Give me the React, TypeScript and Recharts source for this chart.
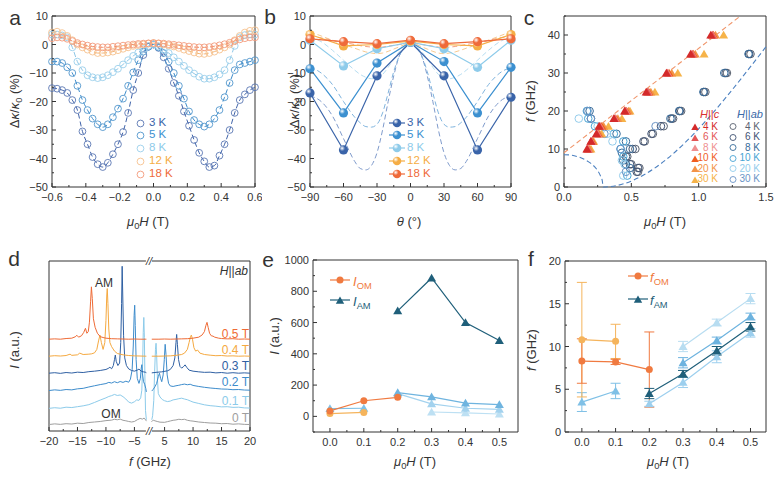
import React from 'react';
import { ComposedChart, Line, Scatter, XAxis, YAxis, ReferenceArea, ErrorBar } from 'recharts';

const FONT = '"Liberation Sans", Arial, Helvetica, sans-serif';
const INK = '#333333';

// ---------- panel a: field sweeps of thermal conductivity ----------
const fieldA = [-0.6, -0.57, -0.54, -0.51, -0.48, -0.45, -0.42, -0.39, -0.36, -0.33, -0.3, -0.27, -0.24, -0.21, -0.18, -0.15, -0.12, -0.09, -0.06, -0.03, 0, 0.03, 0.06, 0.09, 0.12, 0.15, 0.18, 0.21, 0.24, 0.27, 0.3, 0.33, 0.36, 0.39, 0.42, 0.45, 0.48, 0.51, 0.54, 0.57, 0.6];
const kappa3K = [-15.3, -15.5, -16, -17, -19.5, -23, -30.5, -35, -39.5, -42, -43, -41.5, -38.5, -35, -30.7, -24, -16, -10, -3.7, -0.8, 0, -1.2, -4.5, -8.5, -13.5, -18, -23.5, -28.5, -33.5, -38, -41, -43, -42.5, -39, -35, -30, -24, -19.5, -17.5, -16, -15];
const kappa5K = [-6, -6, -6.5, -8, -10, -14.5, -19.5, -23, -26, -28, -29, -28, -25.5, -22.5, -19, -14.5, -9.8, -5.5, -2.5, -0.8, 0, -1, -3, -6, -10, -14.5, -19, -23.5, -26.5, -28, -28.8, -28, -26, -23, -18.5, -13.5, -9, -7, -6.5, -6, -5.5];
const kappa8K = [3.5, 3.5, 3.2, 2.5, -1, -6, -9, -10.8, -11.5, -11.8, -11.5, -10.8, -9.7, -8.5, -7, -5.5, -4, -2.8, -1.6, -0.5, 0, -0.6, -1.8, -3, -4.5, -6, -7.5, -9, -10.2, -11.3, -12, -12, -11.5, -10.5, -9, -5.5, -0.5, 2.5, 3.3, 3.5, 3.5];
const kappa12K = [4.2, 4.5, 4, 3, 1.5, 0, -1, -1.8, -2.5, -3, -3, -2.8, -2.5, -2, -1.5, -1, -0.5, -0.2, 0, 0.3, 0.5, 0.3, 0, -0.3, -0.7, -1.2, -1.8, -2.3, -2.8, -3.2, -3.3, -3, -2.5, -1.8, -1, 0, 1.5, 3, 4.2, 4.8, 5];
const kappa18K = [2.2, 2.5, 2.4, 2, 1.2, 0.5, 0, -0.4, -0.7, -0.9, -1, -1, -0.8, -0.6, -0.4, -0.2, 0, 0.2, 0.3, 0.4, 0.5, 0.4, 0.3, 0.1, -0.1, -0.3, -0.5, -0.7, -0.9, -1, -1, -0.9, -0.6, -0.3, 0.1, 0.6, 1.2, 1.8, 2.2, 2.5, 2.5];
const tempLabels = ['3 K', '5 K', '8 K', '12 K', '18 K'];
const circleColorsA = ['#5a77b3', '#5196cd', '#9bcfeb', '#f6c28e', '#f39b7c'];
const fitColorsA = ['#3f63a9', '#3e8ccb', '#8ec7e7', '#f3b272', '#ef8c63'];

// ---------- panel b: angular dependence ----------
const angles = [-90, -60, -30, 0, 30, 60, 90];
const ang3K = [-17, -37, -11, 0.8, -11, -37, -18.5];
const ang5K = [-8.5, -24, -6.5, 0.8, -6, -24, -8];
const ang8K = [1.5, -7.5, -1.5, 0.8, -1.5, -8, 1.5];
const ang12K = [3.5, -0.5, 0, 1.2, 0, -0.5, 3.5];
const ang18K = [2, 1, 0.3, 1.5, 0.3, 1, 2];
const angleFit = [-90, -80, -70, -60, -50, -45, -40, -35, -30, -25, -20, -15, -10, -5, 0, 5, 10, 15, 20, 25, 30, 35, 40, 45, 50, 60, 70, 80, 90];
const angFit3K = [-18, -20, -25, -33, -41, -43.5, -44, -42.5, -38, -30, -20, -11, -4, -1, 0, -1, -4, -11, -20, -30, -38, -42.5, -44, -43.5, -41, -33, -25, -20, -18];
const angFit5K = [-8, -10, -14, -20, -25.5, -27.5, -28.8, -29, -28, -24, -17, -9.5, -4, -1, 0, -1, -4, -9.5, -17, -24, -28, -29, -28.8, -27.5, -25.5, -20, -14, -10, -8];
const angFit8K = [2.5, 1, -2, -5.5, -9, -10.5, -11.5, -12, -11.8, -10.5, -8, -5, -2.5, -0.8, 0, -0.8, -2.5, -5, -8, -10.5, -11.8, -12, -11.5, -10.5, -9, -5.5, -2, 1, 2.5];
const angFit12K = [4.5, 3, 1.5, 0, -1.3, -2, -2.6, -3, -3.2, -3, -2.4, -1.6, -0.8, 0, 0.5, 0, -0.8, -1.6, -2.4, -3, -3.2, -3, -2.6, -2, -1.3, 0, 1.5, 3, 4.5];
const angFit18K = [3, 2.3, 1.5, 0.7, 0, -0.4, -0.7, -0.9, -1, -0.9, -0.6, -0.3, 0, 0.3, 0.5, 0.3, 0, -0.3, -0.6, -0.9, -1, -0.9, -0.7, -0.4, 0, 0.7, 1.5, 2.3, 3];
const colorsB = ['#3a64a9', '#3c90d0', '#8ecbea', '#f5ad45', '#ef6a3a'];
const fitColorsB = ['#7f9bcc', '#7fb4de', '#b6ddf1', '#f7ca90', '#f4a07f'];

// ---------- panel c: resonance frequency vs field ----------
const cFreqs = [10, 12, 14, 16, 18, 20, 25, 30, 35, 40];
const cField4K = [0.17, 0.2, 0.24, 0.26, 0.37, 0.45, 0.61, 0.76, 0.94, 1.09];
const cField6K = [0.175, 0.2, 0.245, 0.265, 0.375, 0.455, 0.62, 0.765, 0.95, 1.1];
const cField8K = [0.18, 0.205, 0.25, 0.27, 0.38, 0.46, 0.625, 0.77, 0.955, 1.105];
const cField10K = [0.18, 0.21, 0.255, 0.28, 0.385, 0.465, 0.63, 0.78, 0.96, 1.11];
const cField20K = [0.19, 0.215, 0.265, 0.295, 0.4, 0.48, 0.645, 0.8, 0.975, 1.125];
const cField30K = [0.2, 0.22, 0.28, 0.33, 0.43, 0.49, 0.675, 0.845, 1.04, 1.185];
const ab4K = [[0.55, 4], [0.56, 5], [0.5, 6], [0.47, 8], [0.53, 10], [0.6, 12], [0.66, 14], [0.74, 16], [0.81, 18], [0.87, 20], [1.05, 25], [1.21, 30], [1.385, 35]];
const ab6K = [[0.54, 4], [0.55, 5], [0.49, 6], [0.46, 8], [0.51, 10], [0.59, 12], [0.65, 14], [0.72, 16], [0.8, 18], [0.86, 20], [1.04, 25], [1.2, 30], [1.375, 35]];
const ab8K = [[0.49, 5], [0.46, 6], [0.44, 7], [0.43, 9], [0.49, 10], [0.46, 12], [0.39, 14], [0.2, 18], [0.19, 20], [0.79, 18], [0.855, 20], [1.035, 25], [1.19, 30], [1.37, 35]];
const ab10K = [[0.47, 3], [0.44, 8], [0.42, 10], [0.44, 12], [0.37, 14], [0.23, 16], [0.18, 18], [0.17, 20]];
const ab20K = [[0.44, 3], [0.45, 6], [0.43, 7], [0.36, 12], [0.32, 14], [0.25, 16], [0.11, 18]];
const ab30K = [[0.46, 4], [0.42, 10], [0.3, 14], [0.2, 18], [0.175, 20], [0.68, 16]];
const cTemps = ['4 K', '6 K', '8 K', '10 K', '20 K', '30 K'];
const triColors = ['#d42a2a', '#e35656', '#ef8f8f', '#f05d1f', '#f39347', '#f6b349'];
const ringColors = ['#5a6270', '#3f5273', '#386c9a', '#48a4d4', '#94cdec', '#6a94c6'];
const fitCField = [0, 1.31];
const fitCFreq = [9, 45];
const fitAbField = [0, 0.05, 0.1, 0.15, 0.2, 0.24, 0.27, 0.285, 0.29, 1.5];
const fitAbFreq = [8.5, 8.4, 8, 7.3, 6.2, 4.8, 3, 1.5, 0, 36.9];

// ---------- panel d: spectra (f in GHz, intensity offset per field) ----------
const spec0T = [[-20, 3.8], [-19, 4.2], [-18, 3.9], [-17, 4.3], [-16, 4.1], [-15, 4.6], [-14, 4.4], [-13, 5.0], [-12, 5.3], [-11, 5.6], [-10, 6.1], [-9, 6.4], [-8.5, 6.9], [-8, 6.6], [-7.5, 7.0], [-7, 6.3], [-6.5, 6.0], [-6, 5.6], [-5.5, 5.3], [-5, 5.6], [-4.5, 6.6], [-4, 7.4], [-3.6, 7.0], [-3.3, 7.6], [-3, 6.4], [-2.9, 5.8], [2.7, 5.4], [3, 6.4], [3.3, 6.0], [3.7, 5.6], [4.2, 5.2], [5, 5.1], [5.5, 5.5], [6, 5.9], [6.5, 6.3], [7, 6.5], [7.5, 6.9], [8, 6.7], [8.5, 6.9], [9, 6.3], [9.5, 6.0], [10, 5.8], [11, 5.3], [12, 5.0], [13, 4.7], [14, 4.6], [15, 4.3], [16, 4.4], [17, 4.0], [18, 4.2], [19, 3.9], [20, 3.8]];
const spec01T = [[-20, 13.3], [-19, 13.7], [-18, 13.4], [-17, 14.0], [-16, 13.8], [-15, 14.3], [-14, 14.8], [-13, 15.5], [-12, 16.8], [-11, 18.2], [-10, 19.5], [-9.5, 20.3], [-9, 20.8], [-8.5, 21.5], [-8, 20.9], [-7.5, 21.2], [-7, 20.2], [-6.5, 18.8], [-6, 17.0], [-5.5, 16.4], [-5, 17.2], [-4.6, 18.3], [-4.2, 18.0], [-3.9, 19.5], [-3.7, 24], [-3.55, 40], [-3.45, 58], [-3.35, 66.8], [-3.25, 55], [-3.15, 30], [-3.05, 12], [-2.9, 6.6], [2.75, 6.6], [2.9, 9], [3.1, 18], [3.25, 35], [3.4, 48], [3.5, 51.6], [3.6, 45], [3.75, 30], [3.9, 22], [4.2, 20], [4.6, 18.5], [5, 17.8], [5.5, 17.3], [6, 17.6], [6.5, 18.3], [7, 18.6], [7.5, 19.0], [8, 19.3], [8.5, 18.8], [9, 18.4], [9.5, 17.7], [10, 17.0], [11, 16.2], [12, 15.4], [13, 14.9], [14, 14.6], [15, 14.2], [16, 14.3], [17, 13.9], [18, 14.0], [19, 13.6], [20, 13.5]];
const spec02T = [[-20, 23.8], [-19, 24.2], [-18, 23.9], [-17, 24.4], [-16, 24.2], [-15, 24.8], [-14, 25.1], [-13, 25.9], [-12, 26.6], [-11, 27.3], [-10, 27.9], [-9.5, 28.6], [-9, 28.2], [-8.5, 29.0], [-8, 28.4], [-7.5, 29.1], [-7, 28.6], [-6.5, 29.3], [-6, 28.7], [-5.7, 30.5], [-5.4, 36], [-5.2, 50], [-5.05, 68], [-4.95, 74], [-4.85, 62], [-4.7, 42], [-4.5, 31], [-4.2, 28], [-3.95, 31], [-3.8, 37], [-3.7, 39], [-3.6, 34], [-3.4, 29], [-3.2, 27.5], [-3.0, 25], [-2.9, 23], [2.75, 23.5], [3.0, 24.5], [3.3, 26], [3.6, 28], [3.9, 32], [4.1, 34], [4.3, 31], [4.5, 29], [4.75, 33], [4.95, 42], [5.1, 51], [5.25, 45], [5.45, 33], [5.7, 28], [6.0, 26.5], [6.5, 26.2], [7, 26.6], [7.5, 26.9], [8, 27.3], [8.5, 27.6], [9, 27.2], [9.5, 27.5], [10, 26.8], [11, 26.2], [12, 25.7], [13, 25.3], [14, 25.0], [15, 24.7], [16, 24.6], [17, 24.3], [18, 24.4], [19, 24.1], [20, 24.0]];
const spec03T = [[-20, 34.0], [-19, 34.3], [-18, 33.9], [-17, 34.4], [-16, 34.1], [-15, 34.6], [-14, 34.4], [-13, 34.9], [-12, 35.2], [-11, 35.6], [-10, 36.2], [-9.6, 36.8], [-9.3, 37.5], [-9.0, 36.6], [-8.7, 38.5], [-8.5, 42], [-8.35, 44.7], [-8.2, 41], [-7.9, 38.5], [-7.6, 40], [-7.4, 52], [-7.25, 75], [-7.15, 96.9], [-7.05, 80], [-6.9, 56], [-6.7, 43], [-6.4, 38.5], [-6.0, 36.5], [-5.5, 35.6], [-5, 35.2], [-4.5, 35.8], [-4.2, 36.4], [-3.8, 35.2], [-3.4, 34.8], [-3.0, 34.5], [-2.9, 34.3], [2.75, 34.2], [3.5, 34.5], [4.5, 34.8], [5.5, 35.4], [6.0, 36.2], [6.5, 38.5], [6.8, 43], [7.0, 52], [7.12, 56.8], [7.25, 51], [7.45, 42], [7.7, 38], [8.0, 37], [8.3, 37.8], [8.6, 38.9], [8.9, 37.4], [9.3, 35.8], [10, 35.2], [11, 34.8], [12, 34.5], [13, 34.6], [14, 34.2], [15, 34.4], [16, 34.0], [17, 34.3], [18, 34.0], [19, 34.2], [20, 34.0]];
const spec04T = [[-20, 44.0], [-19, 44.3], [-18, 44.1], [-17, 44.4], [-16.3, 45.2], [-16, 44.5], [-15, 44.8], [-14.6, 45.8], [-14, 45.0], [-13, 45.2], [-12.5, 45.4], [-12, 46.0], [-11.6, 48], [-11.3, 53], [-11.05, 56.4], [-10.8, 52], [-10.5, 48], [-10.2, 52], [-10.0, 65], [-9.85, 80], [-9.77, 83.8], [-9.65, 75], [-9.5, 60], [-9.3, 52], [-9.0, 49.6], [-8.5, 47], [-8, 45.6], [-7, 44.8], [-6, 44.4], [-5, 44.2], [-4, 44.1], [-3, 44.0], [-2.9, 44.0], [2.75, 44.0], [4, 44.0], [5, 44.1], [6, 44.2], [7, 44.5], [8, 45.0], [8.5, 45.8], [9.0, 48], [9.3, 52], [9.55, 55.5], [9.7, 56.4], [9.9, 54], [10.15, 49], [10.45, 47], [10.8, 47.6], [11.2, 45.8], [12, 45.0], [13, 44.6], [14, 44.3], [15, 44.4], [16, 44.1], [17, 44.2], [18, 44.0], [19, 44.1], [20, 44.0]];
const spec05T = [[-20, 54.0], [-19, 54.2], [-18, 54.0], [-17, 54.4], [-16, 54.6], [-15.4, 55.4], [-15.1, 56.3], [-14.8, 55.2], [-14.3, 56.0], [-13.9, 58], [-13.6, 60.4], [-13.35, 57.5], [-13.1, 58.5], [-12.9, 64], [-12.7, 76], [-12.55, 84.8], [-12.4, 78], [-12.2, 66], [-11.9, 61], [-11.5, 57.5], [-11, 55.5], [-10.5, 55.0], [-10, 54.6], [-9, 54.3], [-8, 54.2], [-7, 54.1], [-6, 54.0], [-5, 54.1], [-4, 54.0], [-3, 54.0], [-2.9, 54.0], [2.75, 54.0], [4, 54.0], [5, 54.1], [6, 54.0], [7, 54.1], [8, 54.2], [9, 54.3], [10, 54.6], [11, 55.2], [11.6, 56.5], [12.0, 58.5], [12.25, 62], [12.45, 63.9], [12.65, 61], [12.9, 57.5], [13.2, 56], [13.5, 55.8], [13.8, 55.2], [14.5, 54.6], [15, 54.4], [16, 54.2], [17, 54.3], [18, 54.0], [19, 54.1], [20, 54.0]];
const specLabels = ['0 T', '0.1 T', '0.2 T', '0.3 T', '0.4 T', '0.5 T'];
const specColors = ['#9e9e9e', '#8ccbea', '#3d8ccc', '#2f60a3', '#f5a940', '#ef6b36'];

// ---------- panels e, f: intensities and frequencies vs field ----------
const fieldEF = [0, 0.1, 0.2, 0.3, 0.4, 0.5];
const intOM = [35, 100, 122];
const intOMb = [18, 25];
const intAM = [675, 885, 600, 485];
const intAMa = [50, 52];
const intAMb = [152, 125, 85, 75];
const intAMc = [145, 80, 52, 45];
const intAMd = [28, 22, 15];
const freqOM = [8.3, 8.2, 7.3];
const freqOMErr = [2.6, 0.3, 4.4];
const freqOMb = [10.8, 10.6];
const freqOMbErr = [6.7, 2.0];
const freqAM = [4.5, 6.8, 9.5, 12.3];
const freqAMErr = [0.6, 0.4, 0.5, 0.5];
const freqAMa = [3.5, 4.8];
const freqAMaErr = [1.1, 0.9];
const freqAMb = [10.0, 12.8, 15.6];
const freqAMbErr = [0.6, 0.4, 0.6];
const freqAMc = [8.1, 10.7, 13.5];
const freqAMcErr = [0.6, 0.4, 0.4];
const freqAMd = [3.3, 5.8, 8.8, 11.6];
const freqAMdErr = [0.3, 0.6, 0.7, 0.5];
const OM_COLOR = '#f07a40';
const OM_LIGHT = '#f5b45c';
const AM_COLOR = '#1f5f7a';

// ---------- helpers ----------
const EPS = 1e-6;
const has = (list: number[], v: number) => list.some((m) => Math.abs(m - v) < EPS);
const minus = (s: string) => s.replace('-', '\u2212');

function bottomTick(major: number[], fmt: (v: number) => string) {
  return (props: any) => {
    const { x, y, payload } = props;
    const v = Number(payload.value);
    const big = has(major, v);
    return (
      <g>
        <line x1={x} x2={x} y1={y} y2={y - (big ? 4 : 2)} stroke={INK} strokeWidth={1} />
        {big ? (
          <text x={x} y={y + 14} textAnchor="middle" fontSize={11} fontFamily={FONT} fill={INK}>
            {fmt(v)}
          </text>
        ) : null}
      </g>
    );
  };
}

function leftTick(major: number[], fmt: (v: number) => string) {
  return (props: any) => {
    const { x, y, payload } = props;
    const v = Number(payload.value);
    const big = has(major, v);
    return (
      <g>
        <line x1={x} x2={x + (big ? 4 : 2)} y1={y} y2={y} stroke={INK} strokeWidth={1} />
        {big ? (
          <text x={x - 4} y={y + 4} textAnchor="end" fontSize={11} fontFamily={FONT} fill={INK}>
            {fmt(v)}
          </text>
        ) : null}
      </g>
    );
  };
}

type Box = { left: number; top: number; w: number; h: number };
type Plot = { l: number; t: number; r: number; b: number };

function frameProps(box: Box, plot: Plot) {
  return {
    width: box.w,
    height: box.h,
    margin: { top: plot.t - box.top, right: box.left + box.w - plot.r, bottom: 0, left: 0 },
  };
}

const SUB: React.CSSProperties = { fontSize: '0.72em', position: 'relative', top: '0.3em', lineHeight: 0 };

function Txt(props: { x: number; y: number; children: any; size?: number; color?: string; align?: string; rotate?: boolean; bg?: string }) {
  const { x, y, children, size = 13, color = INK, align = 'center', rotate = false, bg } = props;
  const tx = align === 'center' ? '-50%' : align === 'right' ? '-100%' : '0%';
  return (
    <div
      style={{
        position: 'absolute',
        left: x,
        top: y,
        transform: `translate(${tx},-50%)${rotate ? ' rotate(-90deg)' : ''}`,
        fontSize: size,
        color,
        whiteSpace: 'nowrap',
        lineHeight: 1,
        fontFamily: FONT,
        background: bg,
      }}
    >
      {children}
    </div>
  );
}

const ringDot = (color: string, r = 3.4) => (p: any) =>
  p.cx == null || p.cy == null ? <g key={p.index} /> : <circle key={p.index} cx={p.cx} cy={p.cy} r={r} fill="none" stroke={color} strokeWidth={0.9} />;

const filledDot = (color: string, r = 3.5) => (p: any) =>
  p.cx == null || p.cy == null ? <g key={p.index} /> : <circle key={p.index} cx={p.cx} cy={p.cy} r={r} fill={color} stroke="none" />;

const triPath = (cx: number, cy: number, s: number) =>
  `M${cx},${cy - s} L${cx + s * 1.05},${cy + s * 0.8} L${cx - s * 1.05},${cy + s * 0.8} Z`;

const triDot = (color: string, s = 4.3) => (p: any) =>
  p.cx == null || p.cy == null ? <g key={p.index} /> : <path key={p.index} d={triPath(p.cx, p.cy, s)} fill={color} stroke="none" />;

const sphereDot = (id: string) => (p: any) =>
  p.cx == null || p.cy == null ? <g key={p.index} /> : <circle key={p.index} cx={p.cx} cy={p.cy} r={4.6} fill={`url(#${id})`} />;

function SphereGrad({ id, color }: { id: string; color: string }) {
  return (
    <radialGradient id={id} cx="35%" cy="32%" r="70%">
      <stop offset="0%" stopColor="#ffffff" />
      <stop offset="45%" stopColor={color} />
      <stop offset="100%" stopColor={color} stopOpacity={1} />
    </radialGradient>
  );
}

// ---------- panel layouts ----------
const boxA: Box = { left: 0, top: 0, w: 262, h: 240 };
const plotA: Plot = { l: 52, t: 16, r: 255, b: 187 };
const boxB: Box = { left: 262, top: 0, w: 256, h: 240 };
const plotB: Plot = { l: 310, t: 16, r: 511, b: 187 };
const boxC: Box = { left: 518, top: 0, w: 263, h: 240 };
const plotC: Plot = { l: 564, t: 16, r: 766, b: 187 };
const boxD: Box = { left: 0, top: 240, w: 262, h: 240 };
const plotD: Plot = { l: 49, t: 261, r: 250, b: 431 };
const boxE: Box = { left: 262, top: 240, w: 258, h: 240 };
const plotE: Plot = { l: 313, t: 260, r: 518, b: 432 };
const boxF: Box = { left: 520, top: 240, w: 261, h: 240 };
const plotF: Plot = { l: 565, t: 261, r: 766, b: 432 };

const place = (box: Box): React.CSSProperties => ({ position: 'absolute', left: box.left, top: box.top, width: box.w, height: box.h });

const Frame = ({ x, y }: { x: number[]; y: number[] }) => (
  <ReferenceArea x1={x[0]} x2={x[1]} y1={y[0]} y2={y[1]} fill="none" stroke={INK} strokeWidth={1} ifOverflow="visible" />
);

// ---------- panel a ----------
function PanelA() {
  const series = [kappa3K, kappa5K, kappa8K, kappa12K, kappa18K];
  const rows = fieldA.map((h, i) => {
    const r: any = { h };
    series.forEach((s, k) => (r['k' + k] = s[i]));
    return r;
  });
  const xMajor = [-0.6, -0.4, -0.2, 0, 0.2, 0.4, 0.6];
  const yMajor = [-50, -40, -30, -20, -10, 0, 10];
  return (
    <div style={place(boxA)}>
      <ComposedChart {...frameProps(boxA, plotA)} data={rows}>
        <XAxis dataKey="h" type="number" domain={[-0.6, 0.6]} ticks={[-0.6, -0.5, -0.4, -0.3, -0.2, -0.1, 0, 0.1, 0.2, 0.3, 0.4, 0.5, 0.6]} interval={0} height={boxA.top + boxA.h - plotA.b} tickSize={0} tickMargin={0} axisLine={false} tickLine={false} tick={bottomTick(xMajor, (v) => minus(v.toFixed(1)))} />
        <YAxis type="number" domain={[-50, 10]} ticks={[-50, -45, -40, -35, -30, -25, -20, -15, -10, -5, 0, 5, 10]} interval={0} width={plotA.l - boxA.left} tickSize={0} tickMargin={0} axisLine={false} tickLine={false} tick={leftTick(yMajor, (v) => minus(String(v)))} />
        <Frame x={[-0.6, 0.6]} y={[-50, 10]} />
        {series.map((_, k) => (
          <Line key={k} dataKey={'k' + k} type="monotone" stroke={fitColorsA[k]} strokeWidth={1} strokeDasharray="5 3" dot={ringDot(circleColorsA[k])} isAnimationActive={false} />
        ))}
      </ComposedChart>
    </div>
  );
}

// ---------- panel b ----------
function PanelB() {
  const pts = [ang3K, ang5K, ang8K, ang12K, ang18K];
  const fits = [angFit3K, angFit5K, angFit8K, angFit12K, angFit18K];
  const xMajor = [-90, -60, -30, 0, 30, 60, 90];
  const yMajor = [-50, -40, -30, -20, -10, 0, 10];
  return (
    <div style={place(boxB)}>
      <ComposedChart {...frameProps(boxB, plotB)}>
        <defs>
          {colorsB.map((c, k) => (
            <SphereGrad key={k} id={'sphB' + k} color={c} />
          ))}
        </defs>
        <XAxis dataKey="t" type="number" domain={[-90, 90]} ticks={[-90, -75, -60, -45, -30, -15, 0, 15, 30, 45, 60, 75, 90]} interval={0} height={boxB.top + boxB.h - plotB.b} tickSize={0} tickMargin={0} axisLine={false} tickLine={false} tick={bottomTick(xMajor, (v) => minus(String(v)))} />
        <YAxis type="number" domain={[-50, 10]} ticks={[-50, -45, -40, -35, -30, -25, -20, -15, -10, -5, 0, 5, 10]} interval={0} width={plotB.l - boxB.left} tickSize={0} tickMargin={0} axisLine={false} tickLine={false} tick={leftTick(yMajor, (v) => minus(String(v)))} />
        <Frame x={[-90, 90]} y={[-50, 10]} />
        {fits.map((f, k) => (
          <Line key={'f' + k} data={angleFit.map((t, i) => ({ t, v: f[i] }))} dataKey="v" type="monotone" stroke={fitColorsB[k]} strokeWidth={1} strokeDasharray="5 3" dot={false} isAnimationActive={false} />
        ))}
        {pts.map((p, k) => (
          <Line key={'p' + k} data={angles.map((t, i) => ({ t, v: p[i] }))} dataKey="v" type="linear" stroke={colorsB[k]} strokeWidth={1.2} dot={sphereDot('sphB' + k)} isAnimationActive={false} />
        ))}
      </ComposedChart>
    </div>
  );
}

// ---------- panel c ----------
function PanelC() {
  const cFields = [cField4K, cField6K, cField8K, cField10K, cField20K, cField30K];
  const abSets = [ab4K, ab6K, ab8K, ab10K, ab20K, ab30K];
  const triShape = (color: string) => (p: any) => <path d={triPath(p.cx, p.cy, 4.3)} fill={color} />;
  const ringShape = (color: string) => (p: any) => <circle cx={p.cx} cy={p.cy} r={3.8} fill="none" stroke={color} strokeWidth={1} />;
  return (
    <div style={place(boxC)}>
      <ComposedChart {...frameProps(boxC, plotC)}>
        <XAxis dataKey="x" type="number" domain={[0, 1.5]} ticks={[0, 0.25, 0.5, 0.75, 1, 1.25, 1.5]} interval={0} height={boxC.top + boxC.h - plotC.b} tickSize={0} tickMargin={0} axisLine={false} tickLine={false} tick={bottomTick([0, 0.5, 1, 1.5], (v) => v.toFixed(1))} />
        <YAxis dataKey="y" type="number" domain={[0, 45]} ticks={[0, 5, 10, 15, 20, 25, 30, 35, 40, 45]} interval={0} width={plotC.l - boxC.left} tickSize={0} tickMargin={0} axisLine={false} tickLine={false} tick={leftTick([0, 10, 20, 30, 40], (v) => String(v))} />
        <Frame x={[0, 1.5]} y={[0, 45]} />
        <Line data={fitCField.map((x, i) => ({ x, y: fitCFreq[i] }))} dataKey="y" type="linear" stroke="#f0956a" strokeWidth={1.1} strokeDasharray="5 3" dot={false} isAnimationActive={false} />
        <Line data={fitAbField.map((x, i) => ({ x, y: fitAbFreq[i] }))} dataKey="y" type="monotone" stroke="#4c80c0" strokeWidth={1.1} strokeDasharray="5 3" dot={false} isAnimationActive={false} />
        {abSets.map((s, k) => (
          <Scatter key={'r' + k} data={s.map(([x, y]) => ({ x, y }))} shape={ringShape(ringColors[k])} isAnimationActive={false} />
        ))}
        {cFields.slice().reverse().map((fl, kk) => {
          const k = cFields.length - 1 - kk;
          return <Scatter key={'t' + k} data={fl.map((x, i) => ({ x, y: cFreqs[i] }))} shape={triShape(triColors[k])} isAnimationActive={false} />;
        })}
      </ComposedChart>
    </div>
  );
}

// ---------- panel d ----------
const GAP = 2.35;
const toU = (f: number) => (f < 0 ? f + GAP : f - GAP);
const fromU = (u: number) => (u < 0 ? u - GAP : u + GAP);
const spectrumRows = (pts: number[][]) => {
  const left = pts.filter((p) => p[0] < 0).map(([f, v]) => ({ u: toU(f), v }));
  const right = pts.filter((p) => p[0] > 0).map(([f, v]) => ({ u: toU(f), v }));
  return [...left, { u: 0, v: null }, ...right];
};

function PanelD() {
  const specs = [spec0T, spec01T, spec02T, spec03T, spec04T, spec05T];
  const majorF = [-20, -15, -10, -5, 5, 10, 15, 20];
  const minorF = [-17.5, -12.5, -7.5, 7.5, 12.5, 17.5];
  const ticks = [...majorF, ...minorF].map(toU).sort((a, b) => a - b);
  const span = 20 - GAP;
  return (
    <div style={place(boxD)}>
      <ComposedChart {...frameProps(boxD, plotD)}>
        <XAxis dataKey="u" type="number" domain={[-span, span]} ticks={ticks} interval={0} height={boxD.top + boxD.h - plotD.b} tickSize={0} tickMargin={0} axisLine={false} tickLine={false} tick={bottomTick(majorF.map(toU), (v) => minus(String(Math.round(fromU(v)))))} />
        <YAxis type="number" domain={[0, 100]} width={plotD.l - boxD.left} tick={false} axisLine={false} tickLine={false} />
        <Frame x={[-span, span]} y={[0, 100]} />
        {specs.map((s, k) => (
          <Line key={k} data={spectrumRows(s)} dataKey="v" type="linear" stroke={specColors[k]} strokeWidth={1} dot={false} isAnimationActive={false} />
        ))}
      </ComposedChart>
    </div>
  );
}

// ---------- panel e ----------
function PanelE() {
  const pick = (vals: number[], from: number) => vals.map((v, i) => ({ h: fieldEF[from + i], v }));
  const blues = ['#7fc0e6', '#6fb4df', '#a3d2ee', '#bde0f3'];
  return (
    <div style={place(boxE)}>
      <ComposedChart {...frameProps(boxE, plotE)}>
        <XAxis dataKey="h" type="number" domain={[-0.05, 0.555]} ticks={[0, 0.05, 0.1, 0.15, 0.2, 0.25, 0.3, 0.35, 0.4, 0.45, 0.5]} interval={0} height={boxE.top + boxE.h - plotE.b} tickSize={0} tickMargin={0} axisLine={false} tickLine={false} tick={bottomTick(fieldEF, (v) => v.toFixed(1))} />
        <YAxis type="number" domain={[-100, 1000]} ticks={[-100, 0, 100, 200, 300, 400, 500, 600, 700, 800, 900, 1000]} interval={0} width={plotE.l - boxE.left} tickSize={0} tickMargin={0} axisLine={false} tickLine={false} tick={leftTick([0, 200, 400, 600, 800, 1000], (v) => String(v))} />
        <Frame x={[-0.05, 0.555]} y={[-100, 1000]} />
        <Line data={pick(intAMd, 3)} dataKey="v" stroke={blues[3]} strokeWidth={1.2} dot={triDot(blues[3])} isAnimationActive={false} />
        <Line data={pick(intAMc, 2)} dataKey="v" stroke={blues[2]} strokeWidth={1.2} dot={triDot(blues[2])} isAnimationActive={false} />
        <Line data={pick(intAMb, 2)} dataKey="v" stroke={blues[1]} strokeWidth={1.2} dot={triDot(blues[1])} isAnimationActive={false} />
        <Line data={pick(intAMa, 0)} dataKey="v" stroke={blues[0]} strokeWidth={1.2} dot={triDot(blues[0])} isAnimationActive={false} />
        <Line data={pick(intOMb, 0)} dataKey="v" stroke={OM_LIGHT} strokeWidth={1.2} dot={filledDot(OM_LIGHT)} isAnimationActive={false} />
        <Line data={pick(intOM, 0)} dataKey="v" stroke={OM_COLOR} strokeWidth={1.2} dot={filledDot(OM_COLOR)} isAnimationActive={false} />
        <Line data={pick(intAM, 2)} dataKey="v" stroke={AM_COLOR} strokeWidth={1.2} dot={triDot(AM_COLOR)} isAnimationActive={false} />
      </ComposedChart>
    </div>
  );
}

// ---------- panel f ----------
function PanelF() {
  const pick = (vals: number[], errs: number[], from: number) => vals.map((v, i) => ({ h: fieldEF[from + i], v, e: errs[i] }));
  const blues = ['#7fc0e6', '#b8ddf1', '#6db3df', '#9ccfee'];
  const series = [
    { rows: pick(freqAMb, freqAMbErr, 3), c: blues[1], dot: 'tri' },
    { rows: pick(freqAMd, freqAMdErr, 2), c: blues[3], dot: 'tri' },
    { rows: pick(freqAMc, freqAMcErr, 3), c: blues[2], dot: 'tri' },
    { rows: pick(freqAMa, freqAMaErr, 0), c: blues[0], dot: 'tri' },
    { rows: pick(freqOMb, freqOMbErr, 0), c: OM_LIGHT, dot: 'circle' },
    { rows: pick(freqOM, freqOMErr, 0), c: OM_COLOR, dot: 'circle' },
    { rows: pick(freqAM, freqAMErr, 2), c: AM_COLOR, dot: 'tri' },
  ];
  return (
    <div style={place(boxF)}>
      <ComposedChart {...frameProps(boxF, plotF)}>
        <XAxis dataKey="h" type="number" domain={[-0.05, 0.546]} ticks={[0, 0.05, 0.1, 0.15, 0.2, 0.25, 0.3, 0.35, 0.4, 0.45, 0.5]} interval={0} height={boxF.top + boxF.h - plotF.b} tickSize={0} tickMargin={0} axisLine={false} tickLine={false} tick={bottomTick(fieldEF, (v) => v.toFixed(1))} />
        <YAxis type="number" domain={[0, 20]} ticks={[0, 2.5, 5, 7.5, 10, 12.5, 15, 17.5, 20]} interval={0} width={plotF.l - boxF.left} tickSize={0} tickMargin={0} axisLine={false} tickLine={false} tick={leftTick([0, 5, 10, 15, 20], (v) => String(v))} />
        <Frame x={[-0.05, 0.546]} y={[0, 20]} />
        {series.map((s, k) => (
          <Line key={k} data={s.rows} dataKey="v" stroke={s.c} strokeWidth={1.2} dot={s.dot === 'tri' ? triDot(s.c) : filledDot(s.c)} isAnimationActive={false}>
            <ErrorBar dataKey="e" direction="y" width={5} stroke={s.c} strokeWidth={1} />
          </Line>
        ))}
      </ComposedChart>
    </div>
  );
}

// ---------- text overlays ----------
const Kappa = () => (
  <span>
    Δ<i>κ</i>/<i>κ</i>
    <span style={SUB}>0</span> (%)
  </span>
);
const MuH = () => (
  <span>
    <i>μ</i>
    <span style={SUB}>0</span>
    <i>H</i> (T)
  </span>
);

function SmallSvg({ w, h, children }: { w: number; h: number; children: any }) {
  return (
    <svg width={w} height={h} style={{ display: 'block' }}>
      {children}
    </svg>
  );
}

export default function App() {
  const legendRowsA = tempLabels.map((t, k) => ({ t, y: 122.7 + k * 12.7 }));
  const legendRowsC = cTemps.map((t, k) => ({ t, y: 126.5 + k * 10.5 }));
  const specLabelY = [418, 400.5, 382, 366, 350, 334];
  return (
    <div style={{ position: 'absolute', left: 0, top: 0, width: 781, height: 480, background: '#ffffff', overflow: 'hidden', fontFamily: FONT }}>
      <PanelA />
      <PanelB />
      <PanelC />
      <PanelD />
      <PanelE />
      <PanelF />

      {/* panel letters */}
      <Txt x={15} y={17} size={21}>a</Txt>
      <Txt x={270} y={16} size={21}>b</Txt>
      <Txt x={529} y={17} size={21}>c</Txt>
      <Txt x={14} y={258} size={21}>d</Txt>
      <Txt x={268} y={259} size={21}>e</Txt>
      <Txt x={531} y={258} size={21}>f</Txt>

      {/* axis titles */}
      <Txt x={14} y={101} rotate><Kappa /></Txt>
      <Txt x={148} y={221}><MuH /></Txt>
      <Txt x={294} y={101} rotate><Kappa /></Txt>
      <Txt x={409} y={221}><i>θ</i>&nbsp;(°)</Txt>
      <Txt x={530} y={101} rotate><span><i>f</i> (GHz)</span></Txt>
      <Txt x={665} y={221}><MuH /></Txt>
      <Txt x={14} y={350} rotate><span><i>I</i> (a.u.)</span></Txt>
      <Txt x={150} y={461}><span><i>f</i> (GHz)</span></Txt>
      <Txt x={274} y={336} rotate><span><i>I</i> (a.u.)</span></Txt>
      <Txt x={415} y={461}><MuH /></Txt>
      <Txt x={531} y={350} rotate><span><i>f</i> (GHz)</span></Txt>
      <Txt x={668} y={461}><MuH /></Txt>

      {/* legend a */}
      {legendRowsA.map((r, k) => (
        <React.Fragment key={'la' + k}>
          <div style={{ position: 'absolute', left: 136, top: r.y - 4 }}>
            <SmallSvg w={9} h={9}>
              <circle cx={4.5} cy={4.5} r={3.4} fill="none" stroke={circleColorsA[k]} strokeWidth={0.9} />
            </SmallSvg>
          </div>
          <Txt x={149} y={r.y} size={11.5} color={colorsB[k]} align="left">{r.t}</Txt>
        </React.Fragment>
      ))}

      {/* legend b */}
      {legendRowsA.map((r, k) => (
        <React.Fragment key={'lb' + k}>
          <div style={{ position: 'absolute', left: 389, top: r.y - 6 }}>
            <SmallSvg w={16} h={12}>
              <defs>
                <SphereGrad id={'legB' + k} color={colorsB[k]} />
              </defs>
              <line x1={0} x2={16} y1={6} y2={6} stroke={colorsB[k]} strokeWidth={1.2} />
              <circle cx={8} cy={6} r={4.3} fill={`url(#legB${k})`} />
            </SmallSvg>
          </div>
          <Txt x={407} y={r.y} size={11.5} color={colorsB[k]} align="left">{r.t}</Txt>
        </React.Fragment>
      ))}

      {/* legend c */}
      <Txt x={700} y={114} size={11} color="#d83232" align="left"><i>H</i>||<i>c</i></Txt>
      <Txt x={737} y={114} size={11} color="#3a6aa8" align="left"><i>H</i>||<i>ab</i></Txt>
      {legendRowsC.map((r, k) => (
        <React.Fragment key={'lc' + k}>
          <div style={{ position: 'absolute', left: 690, top: r.y - 4.5 }}>
            <SmallSvg w={10} h={9}>
              <path d={triPath(5, 5, 3.6)} fill={triColors[k]} />
            </SmallSvg>
          </div>
          <Txt x={718} y={r.y} size={10} color={triColors[k]} align="right">{r.t}</Txt>
          <div style={{ position: 'absolute', left: 728, top: r.y - 4.5 }}>
            <SmallSvg w={10} h={9}>
              <circle cx={5} cy={4.5} r={3} fill="none" stroke={ringColors[k]} strokeWidth={0.9} />
            </SmallSvg>
          </div>
          <Txt x={760} y={r.y} size={10} color={ringColors[k]} align="right">{r.t}</Txt>
        </React.Fragment>
      ))}

      {/* panel d annotations */}
      {specLabels.map((t, k) => (
        <Txt key={'sl' + k} x={249} y={specLabelY[k]} size={12} color={specColors[k]} align="right">{t}</Txt>
      ))}
      <Txt x={104} y={283} size={12}>AM</Txt>
      <Txt x={111} y={414} size={12}>OM</Txt>
      <Txt x={248} y={271} size={12} align="right"><i>H</i>||<i>ab</i></Txt>
      <Txt x={149} y={261} size={11} bg="#ffffff"><i>//</i></Txt>
      <Txt x={149} y={431} size={11} bg="#ffffff"><i>//</i></Txt>

      {/* legend e */}
      <div style={{ position: 'absolute', left: 330, top: 274 }}>
        <SmallSvg w={20} h={12}>
          <line x1={0} x2={20} y1={6} y2={6} stroke={OM_COLOR} strokeWidth={1.2} />
          <circle cx={10} cy={6} r={3.5} fill={OM_COLOR} />
        </SmallSvg>
      </div>
      <Txt x={353} y={281} size={13} color={OM_COLOR} align="left"><i>I</i><span style={SUB}>OM</span></Txt>
      <div style={{ position: 'absolute', left: 330, top: 294 }}>
        <SmallSvg w={20} h={12}>
          <line x1={0} x2={20} y1={6} y2={6} stroke={AM_COLOR} strokeWidth={1.2} />
          <path d={triPath(10, 6.5, 4)} fill={AM_COLOR} />
        </SmallSvg>
      </div>
      <Txt x={353} y={301} size={13} color={AM_COLOR} align="left"><i>I</i><span style={SUB}>AM</span></Txt>

      {/* legend f */}
      <div style={{ position: 'absolute', left: 628, top: 270 }}>
        <SmallSvg w={20} h={12}>
          <line x1={0} x2={20} y1={6} y2={6} stroke={OM_COLOR} strokeWidth={1.2} />
          <circle cx={10} cy={6} r={3.5} fill={OM_COLOR} />
        </SmallSvg>
      </div>
      <Txt x={650} y={277} size={13} color={OM_COLOR} align="left"><i>f</i><span style={SUB}>OM</span></Txt>
      <div style={{ position: 'absolute', left: 628, top: 293 }}>
        <SmallSvg w={20} h={12}>
          <line x1={0} x2={20} y1={6} y2={6} stroke={AM_COLOR} strokeWidth={1.2} />
          <path d={triPath(10, 6.5, 4)} fill={AM_COLOR} />
        </SmallSvg>
      </div>
      <Txt x={650} y={300} size={13} color={AM_COLOR} align="left"><i>f</i><span style={SUB}>AM</span></Txt>
    </div>
  );
}
